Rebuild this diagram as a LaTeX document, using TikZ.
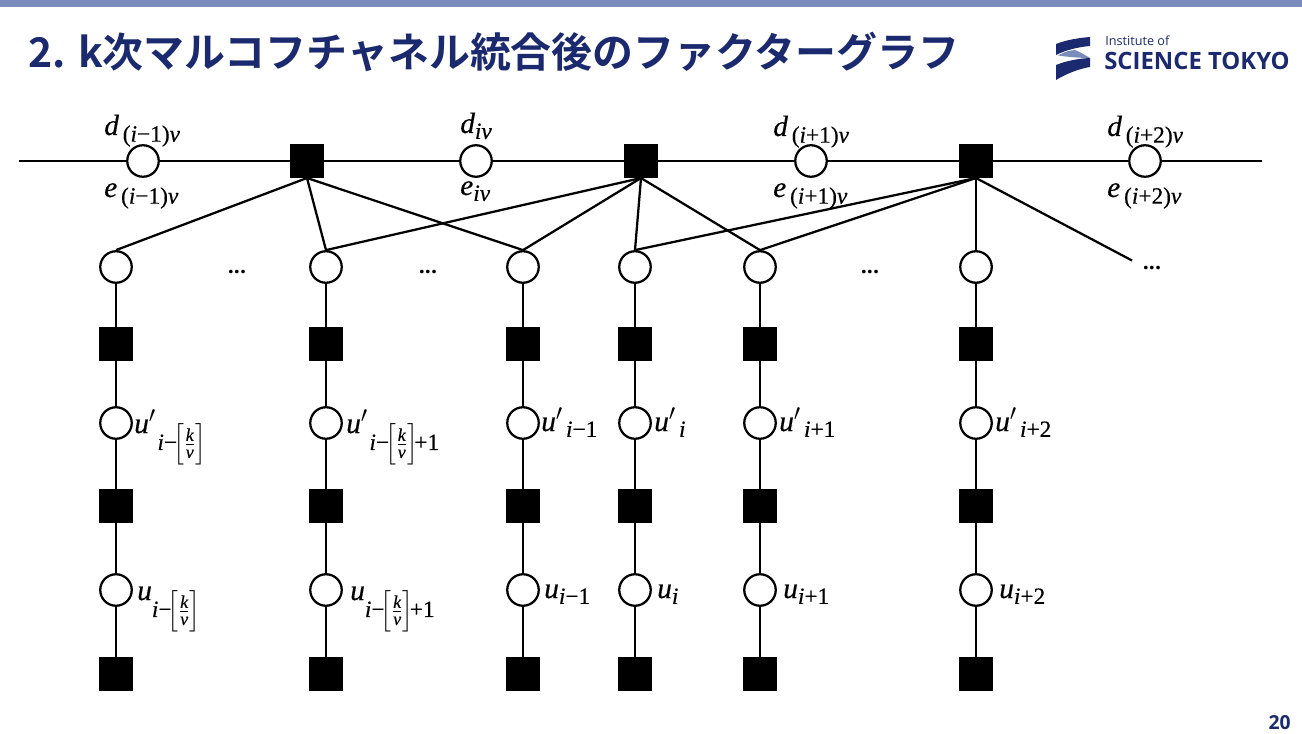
\documentclass[tikz,border=0pt]{standalone}
\usepackage{amsmath}
\usepackage{fontspec}
\setmainfont{Open Sans}
\newfontfamily\jpfont{Noto Sans CJK JP}[BoldFont={Noto Sans CJK JP Bold}]
\newfontfamily\mf{Liberation Serif}[FakeBold=0.4,AutoFakeBold=0.4]
\DeclareMathSizes{22}{22}{17.5}{13.5}
\definecolor{navy}{HTML}{1B2A6E}
\definecolor{barblue}{HTML}{7A8CBC}
\tikzset{
 vn/.style={circle,draw=black,fill=white,line width=1.7pt,minimum size=31.5*0.75pt,inner sep=0pt},
 fn/.style={rectangle,fill=black,draw=none,minimum size=33.5*0.75pt,inner sep=0pt},
 wire/.style={line width=1.7pt,black},
 lab/.style={inner sep=0pt,anchor=base west,font=\fontsize{22pt}{26pt}\selectfont},
 dots/.style={inner sep=0pt,font=\bfseries\fontsize{16pt}{20pt}\selectfont},
}
\newcommand{\vv}[1]{\text{\mf\itshape #1}}
\newcommand{\rr}[1]{\text{\mf #1}}
\newcommand{\sk}{\mkern-3mu\left[\frac{\vv{k}}{\vv{ν}}\right]\mkern-3mu}
\newcommand{\low}[1]{{\raisebox{-8pt}{$\scriptstyle #1$}}}
\newcommand{\gp}{\mkern3mu}
\begin{document}
\begin{tikzpicture}[x=0.75pt,y=-0.75pt]
\useasboundingbox (0,0) rectangle (1302,734);
\fill[barblue] (0,0) rectangle (1302,7.5);
\node[inner sep=0pt,anchor=base west,text=navy,font=\jpfont\bfseries\fontsize{30.7pt}{36pt}\selectfont] (title) at (28,68) {2. k次マルコフチャネル統合後のファクターグラフ};
% logo
\fill[navy] (1090,37) -- (1090,46) .. controls (1078,47) and (1066,50) .. (1056,55) -- (1056,44) .. controls (1066,40) and (1078,38) .. (1090,37) -- cycle;
\fill[barblue] (1058,55.5) .. controls (1064,52) and (1069,50.5) .. (1075,50) .. controls (1080,52) and (1085,55) .. (1090,58) .. controls (1080,58) and (1068,57) .. (1058,55.5) -- cycle;
\fill[navy] (1090,58) -- (1090,67) .. controls (1078,69) and (1066,74) .. (1056,80) -- (1056,65) .. controls (1066,61) and (1078,58.5) .. (1090,58) -- cycle;
\node[inner sep=0pt,anchor=base west,text=navy,font=\fontsize{9.5pt}{11pt}\selectfont] (logoa) at (1105,46) {Institute of};
\node[inner sep=0pt,anchor=base west,text=navy,font=\bfseries\fontsize{17.9pt}{20pt}\selectfont] (logob) at (1104,70) {SCIENCE TOKYO};
\node[inner sep=0pt,anchor=base east,text=navy,font=\bfseries\fontsize{14.5pt}{17pt}\selectfont] (page) at (1291,729) {20};
% top row
\coordinate (ll) at (19,161);
\coordinate (lr) at (1262,161);
\draw[wire] (ll) -- (lr);
\node[vn] (t1) at (143,161) {};
\node[vn] (t2) at (476,161) {};
\node[vn] (t3) at (811,161) {};
\node[vn] (t4) at (1145,161) {};
\node[fn] (f1) at (307,161) {};
\node[fn] (f2) at (641,161) {};
\node[fn] (f3) at (976,161) {};
% columns
\foreach \n/\x in {a/116,b/326,c/523,d/635,e/760,g/976}{
  \coordinate (top\n) at (\x,267);
  \coordinate (bot\n) at (\x,674);
  \draw[wire] (top\n) -- (bot\n);
  \node[vn] (\n1) at (\x,267) {};
  \node[fn] (\n2) at (\x,344) {};
  \node[vn] (\n3) at (\x,423) {};
  \node[fn] (\n4) at (\x,506) {};
  \node[vn] (\n5) at (\x,590) {};
  \node[fn] (\n6) at (\x,674) {};
}
% factor links
\draw[wire] (f1.south) -- (a1.north);
\draw[wire] (f1.south) -- (b1.north);
\draw[wire] (f1.south) -- (c1.north);
\draw[wire] (f2.south) -- (b1.north);
\draw[wire] (f2.south) -- (c1.north);
\draw[wire] (f2.south) -- (d1.north);
\draw[wire] (f2.south) -- (e1.north);
\draw[wire] (f3.south) -- (d1.north);
\draw[wire] (f3.south) -- (e1.north);
\draw[wire] (f3.south) -- (g1.north);
\coordinate (moreend) at (1132,260.5);
\draw[wire] (f3.south) -- (moreend);
\node[dots] (more) at (1152,268) {...};
% dots
\node[dots] (d1) at (237,272.5) {...};
\node[dots] (d2) at (428,272.5) {...};
\node[dots] (d3) at (870,272.5) {...};
% top labels
\node[lab] (ld1) at (104,135) {$\vv{d}_{\gp\rr{(}\vv{i}\rr{−1)}\vv{ν}}$};
\node[lab] (ld2) at (460,133) {$\vv{d}_{\vv{iν}}$};
\node[lab] (ld3) at (773,136) {$\vv{d}_{\gp\rr{(}\vv{i}\rr{+1)}\vv{ν}}$};
\node[lab] (ld4) at (1107,136) {$\vv{d}_{\gp\rr{(}\vv{i}\rr{+2)}\vv{ν}}$};
\node[lab] (le1) at (104,197) {$\vv{e}_{\gp\rr{(}\vv{i}\rr{−1)}\vv{ν}}$};
\node[lab] (le2) at (460,195) {$\vv{e}_{\vv{iν}}$};
\node[lab] (le3) at (773,197) {$\vv{e}_{\gp\rr{(}\vv{i}\rr{+1)}\vv{ν}}$};
\node[lab] (le4) at (1107,197) {$\vv{e}_{\gp\rr{(}\vv{i}\rr{+2)}\vv{ν}}$};
% u' labels
\node[lab] (p1) at (134,433) {$\vv{u}'\mkern1mu{}_{\low{\vv{i}\rr{−}\sk}}$};
\node[lab] (p2) at (346,433) {$\vv{u}'\mkern1mu{}_{\low{\vv{i}\rr{−}\sk\rr{+1}}}$};
\node[lab] (p3) at (541,431) {$\vv{u}'\mkern2mu{}_{\vv{i}\rr{−1}}$};
\node[lab] (p4) at (654,431) {$\vv{u}'\mkern2mu{}_{\vv{i}}$};
\node[lab] (p5) at (779,431) {$\vv{u}'\mkern2mu{}_{\vv{i}\rr{+1}}$};
\node[lab] (p6) at (995,431) {$\vv{u}'\mkern2mu{}_{\vv{i}\rr{+2}}$};
% u labels
\node[lab] (q1) at (137,600) {$\vv{u}_{\low{\vv{i}\rr{−}\sk}}$};
\node[lab] (q2) at (350,600) {$\vv{u}_{\low{\vv{i}\rr{−}\sk\rr{+1}}}$};
\node[lab] (q3) at (544,598) {$\vv{u}_{\vv{i}\rr{−1}}$};
\node[lab] (q4) at (657,598) {$\vv{u}_{\vv{i}}$};
\node[lab] (q5) at (783,598) {$\vv{u}_{\vv{i}\rr{+1}}$};
\node[lab] (q6) at (999,598) {$\vv{u}_{\vv{i}\rr{+2}}$};
\end{tikzpicture}
\end{document}
